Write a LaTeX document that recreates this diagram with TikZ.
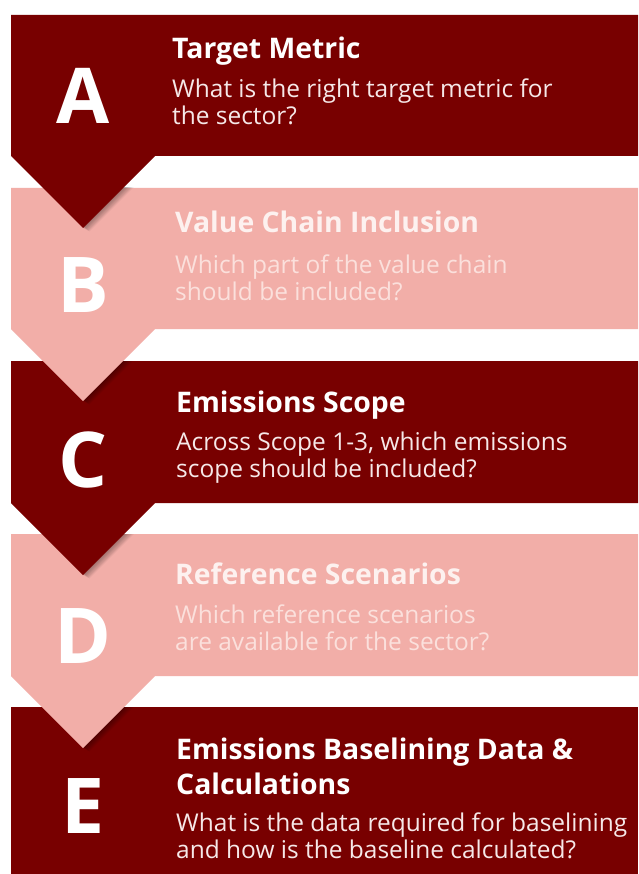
\documentclass[tikz,border=0pt]{standalone}
\usepackage{fontspec}
\setmainfont{Open Sans}
\usetikzlibrary{calc}
\definecolor{darkred}{HTML}{780000}
\definecolor{pinkband}{HTML}{F2AEA8}
\definecolor{pinktitle}{HTML}{FDF1EF}
\definecolor{pinkbody}{HTML}{FBE0DC}
\definecolor{darkbody}{HTML}{F6E8E8}
\newlength\wtmp
\newcommand\bandpath[2]{(11,#1) -- (638,#1) -- (638,#2) -- (155,#2) -- (83,#2+72) -- (11,#2) -- cycle}
\newcommand\chevshadow[1]{%
  \foreach \k in {1,...,7}{\fill[black,opacity=0.05] (11+\k*0.9,#1+\k*0.5) -- (83+\k*0.9,#1+72+\k*0.5) -- (155+\k*0.9,#1+\k*0.5) -- cycle;}}
\begin{document}
\settowidth\wtmp{\fontsize{10}{12}\selectfont What is the data required for baselining}%
\pgfmathsetmacro\bsz{10*451/\wtmp}%
\settowidth\wtmp{\fontsize{10}{12}\selectfont\bfseries Emissions Baselining Data \&}%
\pgfmathsetmacro\tsz{10*397/\wtmp}%
\begin{tikzpicture}[x=1pt,y=-1pt]
\tikzset{
  titletxt/.style={anchor=base west,inner sep=0pt,font=\fontsize{\tsz}{\tsz}\selectfont\bfseries},
  bodytxt/.style={anchor=base west,inner sep=0pt,font=\fontsize{\bsz}{\bsz}\selectfont},
  letter/.style={anchor=center,inner sep=0pt,text=white,font=\fontsize{77}{77}\selectfont\bfseries},
}
\useasboundingbox[fill=white] (0,0) rectangle (638,874);
% E band
\fill[darkred] (11,707) rectangle (638,874);
\begin{scope}\clip (11,707) rectangle (638,874); \chevshadow{676}\end{scope}
% D band
\fill[pinkband] \bandpath{534}{676};
\begin{scope}\clip (11,534) rectangle (638,676); \chevshadow{503}\end{scope}
% C band
\fill[darkred] \bandpath{361}{503};
\begin{scope}\clip (11,361) rectangle (638,503); \chevshadow{329}\end{scope}
% B band
\fill[pinkband] \bandpath{188}{329};
\begin{scope}\clip (11,188) rectangle (638,329); \chevshadow{156}\end{scope}
% A band
\fill[darkred] \bandpath{15}{156};

% letters
\node[letter] (la) at (83,96) {A};
\node[letter] (lb) at (83,285) {B};
\node[letter] (lc) at (83,460) {C};
\node[letter] (ld) at (83,636) {D};
\node[letter] (le) at (83,806) {E};

% A texts
\node[titletxt,text=white] (ta) at (172,59) {Target Metric};
\node[bodytxt,text=darkbody] (ba1) at (172,98) {What is the right target metric for};
\node[bodytxt,text=darkbody] (ba2) at (172,125) {the sector?};
% B texts
\node[titletxt,text=pinktitle] (tb) at (175,233) {Value Chain Inclusion};
\node[bodytxt,text=pinkbody] (bb1) at (175,273) {Which part of the value chain};
\node[bodytxt,text=pinkbody] (bb2) at (175,300) {should be included?};
% C texts
\node[titletxt,text=white] (tc) at (176,412) {Emissions Scope};
\node[bodytxt,text=darkbody] (bc1) at (176,450) {Across Scope 1-3, which emissions};
\node[bodytxt,text=darkbody] (bc2) at (176,477) {scope should be included?};
% D texts
\node[titletxt,text=pinktitle] (td) at (175,584) {Reference Scenarios};
\node[bodytxt,text=pinkbody] (bd1) at (175,623) {Which reference scenarios};
\node[bodytxt,text=pinkbody] (bd2) at (175,650) {are available for the sector?};
% E texts
\node[titletxt,text=white] (te1) at (176,759) {Emissions Baselining Data \&};
\node[titletxt,text=white] (te2) at (176,794) {Calculations};
\node[bodytxt,text=darkbody] (be1) at (176,831) {What is the data required for baselining};
\node[bodytxt,text=darkbody] (be2) at (176,858) {and how is the baseline calculated?};
\end{tikzpicture}
\end{document}
